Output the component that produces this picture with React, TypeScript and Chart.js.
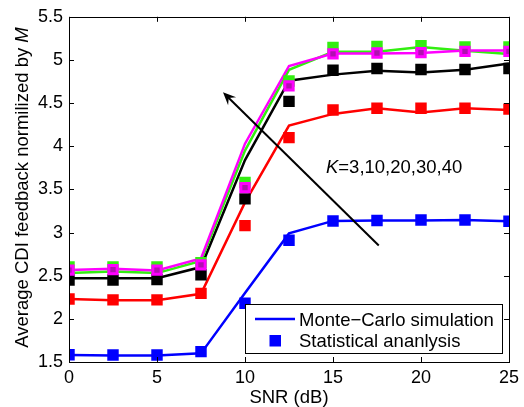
import { useEffect, useRef } from "react";
import { Chart, registerables } from "chart.js";

Chart.register(...registerables);

// SNR grid (dB)
const snr = [0, 2.5, 5, 7.5, 10, 12.5, 15, 17.5, 20, 22.5, 25];

// Monte-Carlo simulation curves, one per K
const mcK3 = [1.58, 1.575, 1.575, 1.6, 2.3, 2.99, 3.135, 3.14, 3.14, 3.145, 3.13];
const mcK10 = [2.23, 2.215, 2.215, 2.29, 3.35, 4.24, 4.375, 4.44, 4.39, 4.44, 4.42];
const mcK20 = [2.47, 2.47, 2.47, 2.6, 3.84, 4.76, 4.83, 4.875, 4.856, 4.886, 4.96];
const mcK30 = [2.53, 2.55, 2.53, 2.67, 3.95, 4.886, 5.095, 5.095, 5.15, 5.106, 5.07];
const mcK40 = [2.565, 2.58, 2.56, 2.7, 4.03, 4.93, 5.075, 5.075, 5.08, 5.11, 5.11];

// Statistical analysis points, one per K
const saK3 = [1.585, 1.58, 1.58, 1.62, 2.18, 2.91, 3.135, 3.14, 3.145, 3.145, 3.13];
const saK10 = [2.23, 2.22, 2.22, 2.295, 3.08, 4.1, 4.42, 4.44, 4.44, 4.44, 4.43];
const saK20 = [2.45, 2.45, 2.455, 2.51, 3.39, 4.52, 4.88, 4.9, 4.89, 4.89, 4.9];
const saK30 = [2.6, 2.6, 2.6, 2.65, 3.58, 4.756, 5.145, 5.155, 5.165, 5.15, 5.15];
const saK40 = [2.565, 2.57, 2.565, 2.625, 3.52, 4.7, 5.07, 5.08, 5.085, 5.1, 5.1];

const xTicks = [0, 5, 10, 15, 20, 25];
const xTickLabels = ["0", "5", "10", "15", "20", "25"];
const yTicks = [1.5, 2, 2.5, 3, 3.5, 4, 4.5, 5, 5.5];
const yTickLabels = ["1.5", "2", "2.5", "3", "3.5", "4", "4.5", "5", "5.5"];

const xTitle = "SNR (dB)";
const yTitle = "Average CDI feedback normilized by ";
const yTitleVar = "M";
const kNote = "=3,10,20,30,40";
const legendLine = "Monte\u2212Carlo simulation";
const legendMarker = "Statistical ananlysis";

// arrow annotation, in data units
const arrowFrom = { x: 17.6, y: 2.85 };
const arrowTo = { x: 8.75, y: 4.625 };
const kNoteAt = { x: 14.6, y: 3.69 };

const FONT = "'Liberation Sans', Arial, Helvetica, sans-serif";

const BLUE = "#0000ff";
const RED = "#ff0000";
const BLACK = "#000000";
const GREEN = "#33ee11";
const MAGENTA = "#ff00ff";
const PURPLE = "#b010b0";

const toXY = (ys: number[]) => snr.map((x, i) => ({ x, y: ys[i] }));

const lineSet = (ys: number[], color: string, order: number) => ({
  data: toXY(ys),
  borderColor: color,
  backgroundColor: color,
  borderWidth: 2.5,
  pointRadius: 0,
  tension: 0,
  fill: false,
  order,
});

const markerSet = (ys: number[], fillColor: string, order: number, edge?: string) => ({
  data: toXY(ys),
  showLine: false,
  pointStyle: "rect",
  pointRadius: edge ? 5.9 : 8.1,
  pointBackgroundColor: fillColor,
  pointBorderColor: edge || fillColor,
  pointBorderWidth: edge ? 3 : 0,
  order,
});

const framePlugin = {
  id: "matlabFrame",
  afterDraw(chart: any) {
    const { ctx, chartArea: a, scales } = chart;
    const xs = scales.x;
    const ys = scales.y;
    ctx.save();

    // axes box
    ctx.strokeStyle = "#000";
    ctx.lineWidth = 1;
    ctx.strokeRect(Math.round(a.left) + 0.5, Math.round(a.top) + 0.5, Math.round(a.right - a.left), Math.round(a.bottom - a.top));

    // inward tick marks on all four sides
    const tl = 5;
    ctx.beginPath();
    xTicks.forEach((v) => {
      const px = Math.round(xs.getPixelForValue(v)) + 0.5;
      ctx.moveTo(px, a.bottom);
      ctx.lineTo(px, a.bottom - tl);
      ctx.moveTo(px, a.top);
      ctx.lineTo(px, a.top + tl);
    });
    yTicks.forEach((v) => {
      const py = Math.round(ys.getPixelForValue(v)) + 0.5;
      ctx.moveTo(a.left, py);
      ctx.lineTo(a.left + tl, py);
      ctx.moveTo(a.right, py);
      ctx.lineTo(a.right - tl, py);
    });
    ctx.stroke();

    ctx.fillStyle = "#000";

    // x title
    ctx.font = `18.5px ${FONT}`;
    ctx.textAlign = "center";
    ctx.textBaseline = "alphabetic";
    ctx.fillText(xTitle, (a.left + a.right) / 2, 403);

    // y title with italic variable
    ctx.save();
    ctx.translate(28, 187.5);
    ctx.rotate(-Math.PI / 2);
    ctx.textAlign = "left";
    ctx.font = `18.5px ${FONT}`;
    const w1 = ctx.measureText(yTitle).width;
    ctx.font = `italic 18.5px ${FONT}`;
    const w2 = ctx.measureText(yTitleVar).width;
    const start = -(w1 + w2) / 2;
    ctx.font = `18.5px ${FONT}`;
    ctx.fillText(yTitle, start, 0);
    ctx.font = `italic 18.5px ${FONT}`;
    ctx.fillText(yTitleVar, start + w1, 0);
    ctx.restore();

    // arrow
    const x0 = xs.getPixelForValue(arrowFrom.x);
    const y0 = ys.getPixelForValue(arrowFrom.y);
    const x1 = xs.getPixelForValue(arrowTo.x);
    const y1 = ys.getPixelForValue(arrowTo.y);
    const ang = Math.atan2(y1 - y0, x1 - x0);
    ctx.strokeStyle = "#000";
    ctx.lineWidth = 2;
    ctx.beginPath();
    ctx.moveTo(x0, y0);
    ctx.lineTo(x1 - 6 * Math.cos(ang), y1 - 6 * Math.sin(ang));
    ctx.stroke();
    const hl = 14;
    const spread = 0.42;
    ctx.fillStyle = "#000";
    ctx.beginPath();
    ctx.moveTo(x1, y1);
    ctx.lineTo(x1 - hl * Math.cos(ang - spread), y1 - hl * Math.sin(ang - spread));
    ctx.lineTo(x1 - 8 * Math.cos(ang), y1 - 8 * Math.sin(ang));
    ctx.lineTo(x1 - hl * Math.cos(ang + spread), y1 - hl * Math.sin(ang + spread));
    ctx.closePath();
    ctx.fill();

    // K annotation
    const kx = xs.getPixelForValue(kNoteAt.x);
    const ky = ys.getPixelForValue(kNoteAt.y);
    ctx.textAlign = "left";
    ctx.textBaseline = "alphabetic";
    ctx.font = `italic 18.5px ${FONT}`;
    ctx.fillText("K", kx, ky);
    const kw = ctx.measureText("K").width;
    ctx.font = `18.5px ${FONT}`;
    ctx.fillText(kNote, kx + kw, ky);

    // legend box
    const lx = 245.5;
    const ly = 304.5;
    const lw = 257;
    const lh = 49;
    ctx.fillStyle = "#fff";
    ctx.fillRect(lx, ly, lw, lh);
    ctx.strokeStyle = "#000";
    ctx.lineWidth = 1;
    ctx.strokeRect(lx, ly, lw, lh);

    ctx.strokeStyle = BLUE;
    ctx.lineWidth = 2.5;
    ctx.beginPath();
    ctx.moveTo(255, 319);
    ctx.lineTo(295, 319);
    ctx.stroke();
    ctx.fillStyle = BLUE;
    ctx.fillRect(269.5, 335, 11.5, 11.5);

    ctx.fillStyle = "#000";
    ctx.font = `18.5px ${FONT}`;
    ctx.fillText(legendLine, 299, 325.5);
    ctx.fillText(legendMarker, 299, 347);

    ctx.restore();
  },
};

export default function App() {
  const ref = useRef<HTMLCanvasElement | null>(null);

  useEffect(() => {
    document.body.style.margin = "0";
    const canvas = ref.current;
    if (!canvas) return;
    const chart = new Chart(canvas, {
      type: "line",
      data: {
        datasets: [
          lineSet(mcK3, BLUE, 20),
          lineSet(mcK10, RED, 19),
          lineSet(mcK20, BLACK, 18),
          lineSet(mcK30, GREEN, 17),
          lineSet(mcK40, MAGENTA, 16),
          markerSet(saK3, BLUE, 10),
          markerSet(saK10, RED, 9),
          markerSet(saK20, BLACK, 8),
          markerSet(saK30, GREEN, 7),
          markerSet(saK40, PURPLE, 6, MAGENTA),
        ] as any,
      },
      options: {
        animation: false,
        responsive: false,
        devicePixelRatio: 1,
        layout: { padding: { top: 11, right: 12, left: 0, bottom: 0 } },
        plugins: {
          legend: { display: false },
          tooltip: { enabled: false },
          title: { display: false },
        },
        scales: {
          x: {
            type: "linear",
            min: 0,
            max: 25,
            afterBuildTicks: (s: any) => {
              s.ticks = xTicks.map((v) => ({ value: v }));
            },
            afterFit: (s: any) => {
              s.height = 45;
            },
            grid: { display: false, drawTicks: false },
            border: { display: false },
            ticks: {
              autoSkip: false,
              maxRotation: 0,
              padding: 5,
              color: "#000",
              font: { family: FONT, size: 18 },
              callback: (v: any) => xTickLabels[xTicks.indexOf(Number(v))] ?? "",
            },
          },
          y: {
            type: "linear",
            min: 1.5,
            max: 5.5,
            afterBuildTicks: (s: any) => {
              s.ticks = yTicks.map((v) => ({ value: v }));
            },
            afterFit: (s: any) => {
              s.width = 69;
            },
            grid: { display: false, drawTicks: false },
            border: { display: false },
            ticks: {
              autoSkip: false,
              padding: 6,
              color: "#000",
              font: { family: FONT, size: 18 },
              callback: (v: any) => yTickLabels[yTicks.indexOf(Number(v))] ?? "",
            },
          },
        },
      } as any,
      plugins: [framePlugin],
    });
    return () => chart.destroy();
  }, []);

  return (
    <div style={{ position: "absolute", left: 0, top: 0, width: 524, height: 407, background: "#fff" }}>
      <canvas ref={ref} width={524} height={407} style={{ width: 524, height: 407, display: "block" }} />
    </div>
  );
}
